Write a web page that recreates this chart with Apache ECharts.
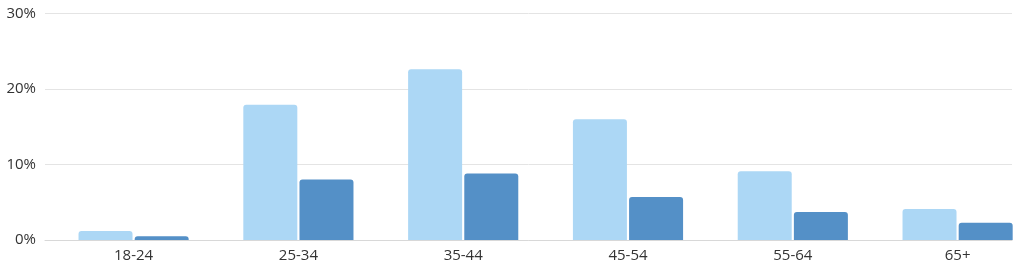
<!DOCTYPE html>
<html>
<head>
<meta charset="utf-8">
<script src="https://cdn.jsdelivr.net/npm/echarts@6/dist/echarts.min.js"></script>
<style>
html,body{margin:0;padding:0;background:#fff;}
#chart{width:1024px;height:275px;}
</style>
</head>
<body>
<div id="chart"></div>
<script>
const categories = ['18-24', '25-34', '35-44', '45-54', '55-64', '65+'];
const seriesA = [1.2, 17.9, 22.6, 16.0, 9.1, 4.1];
const seriesB = [0.5, 8.0, 8.8, 5.7, 3.7, 2.3];
const yTicks = [0, 10, 20, 30];

const FONT = 'Open Sans';
const chart = echarts.init(document.getElementById('chart'));
chart.setOption({
  animation: false,
  textStyle: { fontFamily: FONT },
  grid: [
    { left: 51.2, width: 988.8, top: 13.5, bottom: 35, outerBoundsMode: 'none', containLabel: false },
    { left: 45, right: 12, top: 13.5, bottom: 35, outerBoundsMode: 'none', containLabel: false }
  ],
  xAxis: [
    {
      type: 'category', gridIndex: 0, data: categories,
      axisLine: { show: false }, axisTick: { show: false },
      axisLabel: { color: '#333', fontSize: 15, fontFamily: FONT, margin: 8 }
    },
    {
      type: 'category', gridIndex: 1, data: categories,
      axisLine: { show: true, lineStyle: { color: '#d8d8d8', width: 1 } },
      axisTick: { show: false }, axisLabel: { show: false }
    }
  ],
  yAxis: [
    { type: 'value', gridIndex: 0, min: 0, max: 30, interval: 10, show: false },
    {
      type: 'value', gridIndex: 1, min: yTicks[0], max: yTicks[yTicks.length - 1], interval: 10,
      axisLine: { show: false }, axisTick: { show: false },
      splitLine: { lineStyle: { color: '#e4e4e4', width: 1 } },
      axisLabel: { color: '#333', fontSize: 15, fontFamily: FONT, margin: 9, formatter: v => v + '%' }
    }
  ],
  series: [
    {
      type: 'bar', xAxisIndex: 0, yAxisIndex: 0, data: seriesA,
      barWidth: 54, barGap: '4%',
      itemStyle: { color: '#acd7f5', borderRadius: [3, 3, 0, 0] }
    },
    {
      type: 'bar', xAxisIndex: 0, yAxisIndex: 0, data: seriesB,
      barWidth: 54, barGap: '4%',
      itemStyle: { color: '#5490c7', borderRadius: [3, 3, 0, 0] }
    }
  ]
});
</script>
</body>
</html>
